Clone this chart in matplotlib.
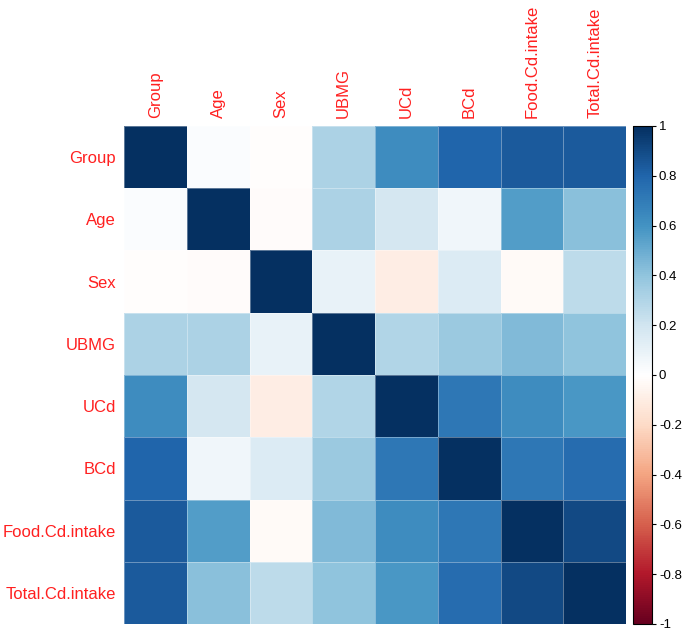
import matplotlib
matplotlib.use("Agg")
import matplotlib.pyplot as plt
import numpy as np
from matplotlib import cm, colors

plt.rcParams['font.family'] = ['Liberation Sans', 'DejaVu Sans']

labels = ["Group", "Age", "Sex", "UBMG", "UCd", "BCd", "Food.Cd.intake", "Total.Cd.intake"]

row_group = [1.00, 0.02, -0.01, 0.32, 0.63, 0.80, 0.84, 0.84]
row_age   = [0.02, 1.00, -0.02, 0.32, 0.18, 0.07, 0.56, 0.42]
row_sex   = [-0.01, -0.02, 1.00, 0.10, -0.10, 0.15, -0.03, 0.26]
row_ubmg  = [0.32, 0.32, 0.10, 1.00, 0.30, 0.37, 0.44, 0.40]
row_ucd   = [0.63, 0.18, -0.10, 0.30, 1.00, 0.72, 0.63, 0.58]
row_bcd   = [0.80, 0.07, 0.15, 0.37, 0.72, 1.00, 0.72, 0.77]
row_food  = [0.84, 0.56, -0.03, 0.44, 0.63, 0.72, 1.00, 0.90]
row_total = [0.84, 0.42, 0.26, 0.40, 0.58, 0.77, 0.90, 1.00]

cbar_ticks = [1, 0.8, 0.6, 0.4, 0.2, 0, -0.2, -0.4, -0.6, -0.8, -1]
cbar_labels = ["1", "0.8", "0.6", "0.4", "0.2", "0", "-0.2", "-0.4", "-0.6", "-0.8", "-1"]

palette = ["#67001F", "#B2182B", "#D6604D", "#F4A582", "#FDDBC7", "#FFFFFF",
           "#D1E5F0", "#92C5DE", "#4393C3", "#2166AC", "#053061"]

M = np.array([row_group, row_age, row_sex, row_ubmg, row_ucd, row_bcd, row_food, row_total])
n = len(labels)

W, H = 685, 633
fig = plt.figure(figsize=(W / 100, H / 100), dpi=100)

gl, gr, gt, gb = 124, 626, 126, 624
ax = fig.add_axes([gl / W, 1 - gb / H, (gr - gl) / W, (gb - gt) / H])
cmap = colors.LinearSegmentedColormap.from_list("corr", palette, N=256)
norm = colors.Normalize(vmin=-1, vmax=1)
ax.pcolormesh(np.arange(n + 1), np.arange(n + 1), M, cmap=cmap, norm=norm,
              edgecolors=(1, 1, 1, 0.35), linewidth=0.5)
ax.set_xlim(0, n)
ax.set_ylim(n, 0)
for s in ax.spines.values():
    s.set_visible(False)
ax.xaxis.tick_top()
ax.set_xticks(np.arange(n) + 0.5)
ax.set_xticklabels(labels, rotation=90, color="#ff2020", fontsize=12)
ax.set_yticks(np.arange(n) + 0.5)
ax.set_yticklabels(labels, color="#ff2020", fontsize=12)
ax.tick_params(length=0, pad=6)

cl, cr = 633, 652
cax = fig.add_axes([cl / W, 1 - gb / H, (cr - cl) / W, (gb - gt) / H])
cb = fig.colorbar(cm.ScalarMappable(norm=norm, cmap=cmap), cax=cax)
cb.set_ticks(cbar_ticks)
cb.set_ticklabels(cbar_labels)
cb.outline.set_edgecolor("black")
cb.outline.set_linewidth(0.8)
cax.tick_params(length=3, width=0.8, labelsize=9.5, colors="black", pad=2)

fig.savefig("out.png", dpi=100)
